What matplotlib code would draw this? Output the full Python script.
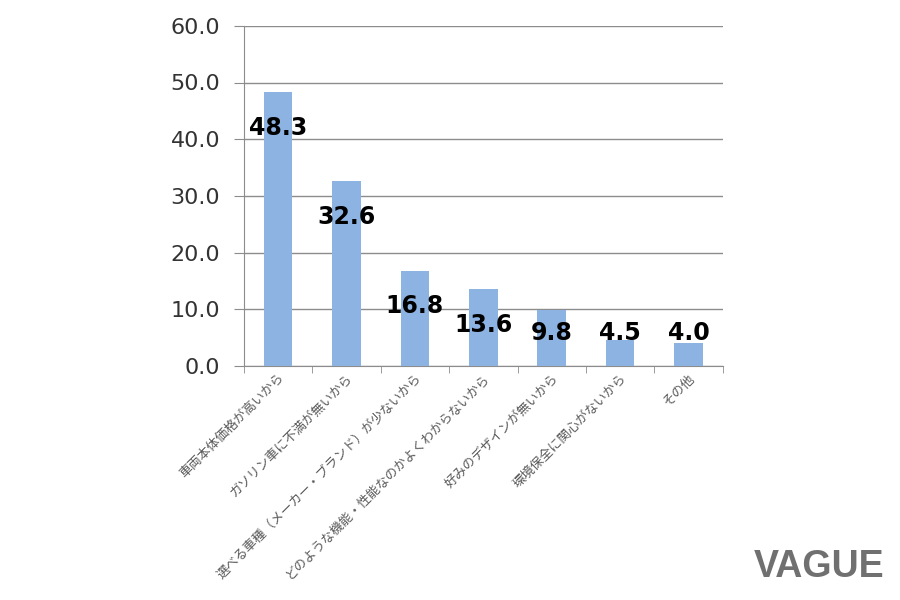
import numpy as np
import matplotlib
matplotlib.use('Agg')
import matplotlib.pyplot as plt

# Data
categories = ['車両本体価格が高いから', 'ガソリン車に不満が無いから',
              '選べる車種（メーカー・ブランド）が少ないから',
              'どのような機能・性能なのかよくわからないから',
              '好みのデザインが無いから', '環境保全に関心がないから', 'その他']
values = [48.3, 32.6, 16.8, 13.6, 9.8, 4.5, 4.0]
yticks = [0, 10, 20, 30, 40, 50, 60]

plt.rcParams['font.family'] = ['DejaVu Sans', 'Noto Sans CJK JP']

fig = plt.figure(figsize=(9, 6), dpi=100)
ax = fig.add_axes([0.271, 0.39, 0.532, 0.567])

x = np.arange(len(categories))
ax.bar(x, values, width=0.42, color='#8DB3E2', zorder=3)

# value labels (Excel-style inside end, kept above the axis)
for xi, v in zip(x, values):
    ypos = max(v - 6.3, 5.9)
    ax.text(xi, ypos, f'{v:.1f}', ha='center', va='center',
            fontsize=17, fontweight='bold', color='black', zorder=4)

ax.set_xlim(-0.5, len(categories) - 0.5)
ax.set_ylim(0, 60)
ax.set_yticks(yticks)
ax.set_yticklabels([f'{t:.1f}' for t in yticks], fontsize=16, color='#333333')
ax.yaxis.grid(True, color='#8C8C8C', linewidth=1, zorder=0)
ax.tick_params(axis='y', length=7, color='#8C8C8C', pad=10)

ax.set_xticks(x)
ax.set_xticklabels(categories, rotation=45, ha='right', rotation_mode='anchor',
                   fontsize=9.3, color='#595959', family='Noto Sans CJK JP')
ax.tick_params(axis='x', which='major', length=0, pad=4)
ax.set_xticks(np.arange(-0.5, len(categories)), minor=True)
ax.tick_params(axis='x', which='minor', length=5, color='#8C8C8C')

for s in ['top', 'right']:
    ax.spines[s].set_visible(False)
for s in ['left', 'bottom']:
    ax.spines[s].set_color('#8C8C8C')

# watermark
fig.text(0.983, 0.025, 'VAGUE', ha='right', va='bottom', fontsize=27,
         fontweight='bold', color='#707070', family='Liberation Sans')

fig.savefig('out.png', dpi=100)
